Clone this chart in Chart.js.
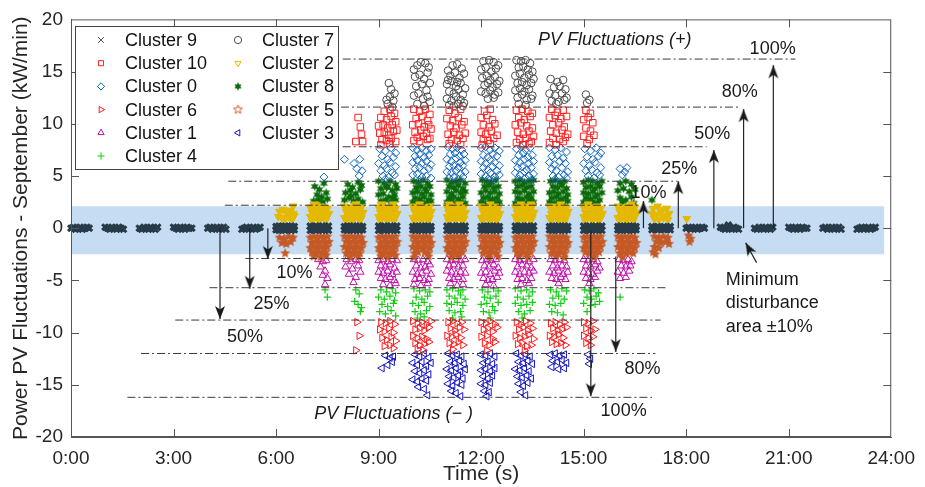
<!DOCTYPE html>
<html>
<head>
<meta charset="utf-8">
<script src="https://cdn.jsdelivr.net/npm/chart.js@4.4.0/dist/chart.umd.min.js"></script>
<style>
  body { margin: 0; background: #fff; }
  #chart { display: block; }
</style>
</head>
<body>
<canvas id="chart" width="925" height="487"></canvas>
<script>
// each row: [hour, minute, value, minute, value, ...]  (kW/min)
const c9Rows = [
  [0, 0,0, 4,0.1, 8,-0.1, 12,0, 16,0.1, 20,-0.1, 24,0, 28,0.1, 32,0],
  [1, 0,0.1, 4,0, 8,-0.1, 12,0.1, 16,0, 20,-0.1, 24,0.1, 28,0, 32,-0.1],
  [2, 0,0, 4,-0.1, 8,0.1, 12,0, 16,-0.1, 20,0.1, 24,0, 28,-0.1, 32,0.1],
  [3, 0,0.1, 4,0, 8,-0.1, 12,0.1, 16,0, 20,-0.1, 24,0.1, 28,0, 32,0],
  [4, 0,0, 4,0.1, 8,-0.1, 12,0, 16,0.1, 20,-0.1, 24,0, 28,0.1, 32,-0.1],
  [5, 0,-0.1, 4,0, 8,0.1, 12,-0.1, 16,0, 20,0.1, 24,-0.1, 28,0, 32,0.1],
  [6, 0,0.15, 5,0.2, 10,0.15, 16,0.2, 21,0.15, 27,0.2, 32,0.15, 0,-0.15, 5,-0.2, 10,-0.15, 16,-0.2, 21,-0.15, 27,-0.2, 32,-0.15],
  [7, 0,0.2, 5,0.15, 10,0.2, 16,0.15, 21,0.2, 27,0.15, 32,0.2, 0,-0.2, 5,-0.15, 10,-0.2, 16,-0.15, 21,-0.2, 27,-0.15, 32,-0.2],
  [8, 0,0.15, 5,0.2, 10,0.15, 16,0.2, 21,0.15, 27,0.2, 32,0.15, 0,-0.15, 5,-0.2, 10,-0.15, 16,-0.2, 21,-0.15, 27,-0.2, 32,-0.15],
  [9, 0,0.2, 5,0.15, 10,0.2, 16,0.15, 21,0.2, 27,0.15, 32,0.2, 0,-0.2, 5,-0.15, 10,-0.2, 16,-0.15, 21,-0.2, 27,-0.15, 32,-0.2],
  [10, 0,0.15, 5,0.2, 10,0.15, 16,0.2, 21,0.15, 27,0.2, 32,0.15, 0,-0.15, 5,-0.2, 10,-0.15, 16,-0.2, 21,-0.15, 27,-0.2, 32,-0.15],
  [11, 0,0.2, 5,0.15, 10,0.2, 16,0.15, 21,0.2, 27,0.15, 32,0.2, 0,-0.2, 5,-0.15, 10,-0.2, 16,-0.15, 21,-0.2, 27,-0.15, 32,-0.2],
  [12, 0,0.15, 5,0.2, 10,0.15, 16,0.2, 21,0.15, 27,0.2, 32,0.15, 0,-0.15, 5,-0.2, 10,-0.15, 16,-0.2, 21,-0.15, 27,-0.2, 32,-0.15],
  [13, 0,0.2, 5,0.15, 10,0.2, 16,0.15, 21,0.2, 27,0.15, 32,0.2, 0,-0.2, 5,-0.15, 10,-0.2, 16,-0.15, 21,-0.2, 27,-0.15, 32,-0.2],
  [14, 0,0.15, 5,0.2, 10,0.15, 16,0.2, 21,0.15, 27,0.2, 32,0.15, 0,-0.15, 5,-0.2, 10,-0.15, 16,-0.2, 21,-0.15, 27,-0.2, 32,-0.15],
  [15, 0,0.2, 5,0.15, 10,0.2, 16,0.15, 21,0.2, 27,0.15, 32,0.2, 0,-0.2, 5,-0.15, 10,-0.2, 16,-0.15, 21,-0.2, 27,-0.15, 32,-0.2],
  [16, 0,0.15, 5,0.2, 10,0.15, 16,0.2, 21,0.15, 27,0.2, 32,0.15, 0,-0.15, 5,-0.2, 10,-0.15, 16,-0.2, 21,-0.15, 27,-0.2, 32,-0.15],
  [17, 0,0.15, 5,0.1, 10,0.15, 16,0.1, 21,0.15, 27,0.1, 32,0.15, 0,-0.15, 5,-0.1, 10,-0.15, 16,-0.1, 21,-0.15, 27,-0.1, 32,-0.15],
  [18, 0,0, 4,0.1, 8,-0.1, 12,0, 16,0.1, 20,-0.1, 24,0, 28,0.1, 32,0],
  [19, 0,0.1, 4,0, 8,-0.1, 12,0.1, 14,0.3, 16,0, 20,-0.1, 24,0.1, 28,0, 32,-0.1],
  [20, 0,0, 4,-0.1, 8,0.1, 12,0, 16,-0.1, 20,0.1, 24,0, 28,-0.1, 32,0.1],
  [21, 0,0.1, 4,0, 8,-0.1, 12,0.1, 16,0, 20,-0.1, 24,0.1, 28,0, 32,0],
  [22, 0,0, 4,0.1, 8,-0.1, 12,0, 16,0.1, 20,-0.1, 24,0, 28,0.1, 32,-0.1],
  [23, 0,-0.1, 4,0, 8,0.1, 12,-0.1, 16,0, 20,0.1, 24,-0.1, 28,0, 32,0.1]
];
const c10Rows = [
  [8, 24,10.6, 28,9.7, 30,9.0, 20,8.3, 32,8.3],
  [9, 10,11.2, 20,11.4, 28,11.0, 4,10.6, 14,10.4, 22,10.7, 30,10.2, 0,9.8, 8,9.9, 16,9.6, 24,9.9, 32,9.4, 2,9.1, 10,9.2, 18,8.9, 26,9.3, 6,8.5, 14,8.4, 22,8.6, 30,8.3, 4,8.0, 20,8.1],
  [10, 2,11.4, 12,11.2, 22,11.4, 30,10.9, 6,10.5, 16,10.7, 26,10.3, 0,9.9, 10,10.0, 20,9.7, 28,9.9, 4,9.2, 14,9.4, 24,9.1, 32,9.5, 8,8.7, 18,8.8, 26,8.5, 2,8.4, 12,8.3, 30,8.6],
  [11, 4,11.3, 14,11.0, 24,11.4, 0,10.5, 10,10.3, 20,10.6, 30,10.2, 6,9.8, 16,9.6, 26,9.9, 2,9.0, 12,9.2, 22,8.9, 32,9.1, 8,8.5, 18,8.4, 28,8.6, 4,8.1, 24,8.0],
  [12, 6,11.2, 16,11.4, 0,10.6, 10,10.8, 20,10.4, 4,9.9, 14,9.7, 24,10.0, 0,9.2, 8,9.0, 18,9.3, 28,8.9, 4,8.5, 12,8.4, 22,8.6, 2,8.0, 16,8.1],
  [13, 2,11.3, 12,11.4, 22,11.2, 30,11.0, 6,10.6, 16,10.4, 26,10.7, 0,9.9, 10,10.1, 20,9.8, 30,9.6, 4,9.2, 14,9.0, 24,9.3, 32,8.8, 8,8.5, 18,8.6, 28,8.3, 2,8.2, 14,8.0, 24,8.1],
  [14, 4,11.4, 14,11.1, 24,11.3, 0,10.6, 10,10.8, 20,10.5, 30,10.7, 6,9.9, 16,10.1, 26,9.7, 2,9.3, 12,9.1, 22,9.4, 32,9.0, 6,8.6, 18,8.5, 28,8.7, 0,8.2, 12,8.0, 24,8.3],
  [15, 4,11.3, 12,11.0, 0,10.4, 8,10.6, 16,10.1, 4,9.6, 12,9.3, 0,8.8, 10,8.5, 18,8.9, 6,8.1]
];
const c0Rows = [
  [7, 24,4.9],
  [8, 0,6.6, 17,6.2, 27,6.6, 31,5.5, 22,5.7, 26,5.0],
  [9, 2,7.6, 12,7.4, 22,7.7, 30,7.2, 6,6.9, 16,6.6, 26,6.8, 0,6.2, 10,6.0, 20,6.3, 30,5.9, 4,5.5, 14,5.7, 24,5.3, 8,5.0, 18,4.9, 28,5.1, 12,4.7],
  [10, 0,7.7, 8,7.5, 16,7.7, 24,7.4, 32,7.6, 4,6.9, 12,7.1, 20,6.8, 28,7.0, 0,6.3, 8,6.5, 16,6.2, 24,6.4, 32,6.1, 4,5.7, 12,5.8, 20,5.5, 28,5.7, 0,5.1, 8,5.2, 16,4.9, 24,5.0, 32,4.8, 12,4.6],
  [11, 2,7.8, 10,7.6, 18,7.7, 26,7.5, 6,7.1, 14,7.2, 22,6.9, 30,7.1, 0,6.6, 8,6.4, 16,6.7, 24,6.3, 32,6.5, 4,5.9, 12,6.0, 20,5.8, 28,6.0, 0,5.4, 8,5.3, 16,5.5, 24,5.2, 32,5.4, 4,4.8, 12,4.9, 20,4.7, 28,4.9],
  [12, 0,7.7, 8,7.8, 16,7.5, 24,7.7, 32,7.4, 4,7.0, 12,6.8, 20,7.1, 28,6.9, 0,6.4, 8,6.2, 16,6.5, 24,6.3, 32,6.0, 4,5.8, 12,5.6, 20,5.9, 28,5.5, 0,5.2, 8,5.0, 16,5.3, 24,4.9, 32,5.1, 12,4.7, 22,4.6],
  [13, 2,7.6, 10,7.8, 18,7.5, 26,7.7, 6,7.0, 14,7.2, 22,6.8, 30,7.0, 0,6.5, 8,6.3, 16,6.6, 24,6.2, 32,6.4, 4,5.8, 12,5.9, 20,5.6, 28,5.8, 0,5.3, 8,5.1, 16,5.4, 24,5.0, 32,5.2, 6,4.7, 18,4.8, 28,4.6],
  [14, 0,7.7, 10,7.5, 20,7.7, 30,7.3, 4,6.9, 14,7.0, 24,6.7, 0,6.3, 8,6.1, 18,6.4, 28,6.2, 4,5.7, 12,5.5, 22,5.8, 32,5.4, 6,5.0, 16,4.9, 26,5.1, 10,4.7, 30,4.8],
  [15, 2,7.6, 12,7.4, 22,7.7, 30,7.2, 6,6.8, 16,6.6, 26,6.9, 0,6.2, 10,6.0, 20,6.3, 30,5.8, 4,5.5, 14,5.6, 24,5.3, 8,5.0, 18,4.8, 28,5.1],
  [16, 4,5.7, 12,5.4, 16,5.8, 8,5.1]
];
const c6Rows = [
  [8, 22,-9.0, 26,-10.3, 20,-11.7],
  [9, 4,-9.0, 12,-9.1, 20,-8.9, 28,-9.2, 2,-9.7, 10,-9.9, 18,-9.6, 26,-10.0, 6,-10.5, 14,-10.7, 22,-10.4, 30,-10.8, 10,-11.3, 20,-11.2, 26,-11.5],
  [10, 0,-8.9, 8,-9.1, 16,-9.0, 24,-9.2, 32,-8.9, 4,-9.7, 12,-9.6, 20,-9.8, 28,-9.5, 0,-10.3, 8,-10.5, 16,-10.4, 24,-10.6, 4,-11.0, 12,-11.2, 20,-11.1, 28,-10.9, 8,-11.6, 18,-11.7],
  [11, 2,-9.0, 10,-8.9, 18,-9.1, 26,-9.0, 6,-9.6, 14,-9.8, 22,-9.5, 30,-9.7, 0,-10.3, 8,-10.4, 16,-10.2, 24,-10.5, 4,-11.0, 12,-11.1, 20,-10.9, 28,-11.2, 10,-11.6],
  [12, 0,-9.0, 8,-9.1, 16,-8.9, 24,-9.2, 4,-9.7, 12,-9.6, 20,-9.9, 28,-9.5, 0,-10.4, 10,-10.3, 20,-10.6, 6,-11.0, 14,-11.2, 24,-10.9, 10,-11.7],
  [13, 2,-9.0, 10,-9.2, 18,-8.9, 26,-9.1, 6,-9.7, 14,-9.5, 22,-9.8, 30,-9.6, 0,-10.3, 8,-10.5, 16,-10.4, 24,-10.2, 32,-10.6, 4,-11.1, 12,-11.0, 20,-11.3, 28,-11.2, 16,-11.7],
  [14, 2,-9.1, 10,-9.0, 18,-9.2, 26,-9.0, 6,-9.6, 14,-9.8, 22,-9.7, 30,-9.5, 0,-10.3, 8,-10.4, 16,-10.2, 24,-10.5, 4,-10.9, 12,-11.1, 20,-11.0, 28,-11.2],
  [15, 0,-9.0, 8,-9.1, 16,-8.9, 4,-9.6, 12,-9.8, 20,-9.7, 0,-10.3, 8,-10.5, 16,-10.4, 4,-11.0, 12,-11.2]
];
const c1Rows = [
  [7, 14,-3.0, 22,-3.2, 28,-3.1, 18,-3.7, 26,-4.1, 22,-4.5, 30,-4.8, 26,-5.4],
  [8, 4,-3.0, 12,-3.2, 20,-3.0, 26,-3.1, 2,-3.7, 14,-3.9, 24,-3.6, 8,-4.4, 20,-4.7, 28,-4.2, 16,-5.2],
  [9, 0,-3.1, 8,-3.0, 16,-3.2, 24,-3.0, 32,-3.1, 4,-3.6, 12,-3.7, 20,-3.5, 28,-3.8, 0,-4.2, 8,-4.3, 16,-4.1, 24,-4.4, 32,-4.2, 4,-4.8, 12,-4.9, 20,-4.7, 28,-5.0, 8,-5.4, 20,-5.5, 30,-5.3],
  [10, 2,-3.0, 10,-3.1, 18,-3.0, 26,-3.2, 6,-3.6, 14,-3.8, 22,-3.7, 30,-3.5, 0,-4.2, 8,-4.4, 16,-4.3, 24,-4.1, 32,-4.4, 4,-4.9, 12,-4.8, 20,-5.0, 28,-4.9, 2,-5.4, 14,-5.5, 26,-5.3],
  [11, 0,-3.0, 8,-3.1, 16,-3.0, 24,-3.1, 32,-3.0, 4,-3.6, 12,-3.5, 20,-3.7, 28,-3.6, 0,-4.1, 8,-4.2, 16,-4.4, 24,-4.2, 32,-4.3, 4,-4.8, 12,-4.9, 20,-4.7, 28,-4.9, 6,-5.3, 18,-5.5, 28,-5.4],
  [12, 2,-3.1, 10,-3.0, 18,-3.1, 26,-3.0, 6,-3.6, 14,-3.7, 22,-3.5, 30,-3.8, 0,-4.3, 8,-4.2, 16,-4.4, 24,-4.1, 32,-4.3, 4,-4.8, 12,-5.0, 20,-4.9, 28,-4.7, 8,-5.4, 22,-5.5],
  [13, 0,-3.0, 8,-3.1, 16,-3.0, 24,-3.2, 32,-3.0, 4,-3.7, 12,-3.5, 20,-3.6, 28,-3.8, 0,-4.2, 8,-4.4, 16,-4.2, 24,-4.3, 32,-4.1, 4,-4.9, 12,-4.8, 20,-5.0, 28,-4.8, 10,-5.4, 24,-5.3],
  [14, 2,-3.0, 10,-3.1, 18,-3.0, 26,-3.1, 6,-3.6, 14,-3.8, 22,-3.6, 30,-3.7, 0,-4.2, 8,-4.3, 16,-4.1, 24,-4.4, 32,-4.2, 4,-4.8, 12,-4.9, 20,-4.7, 28,-4.9, 16,-5.3],
  [15, 0,-3.0, 8,-3.1, 16,-3.0, 24,-3.2, 4,-3.6, 12,-3.7, 20,-3.5, 28,-3.8, 0,-4.2, 8,-4.3, 16,-4.4, 24,-4.1, 4,-4.8, 12,-4.9, 20,-4.7, 10,-5.3],
  [16, 2,-3.0, 10,-3.1, 18,-3.0, 24,-3.2, 6,-3.6, 14,-3.7, 22,-3.6, 0,-4.2, 10,-4.3, 20,-4.1, 4,-4.8, 14,-4.7]
];
const c4Rows = [
  [7, 26,-5.9, 30,-6.6],
  [8, 20,-5.9, 26,-6.3, 18,-7.0, 24,-7.3, 30,-7.6, 28,-8.0],
  [9, 4,-5.9, 14,-6.1, 24,-5.8, 30,-6.2, 0,-6.6, 10,-6.8, 20,-6.5, 28,-6.9, 6,-7.3, 16,-7.5, 26,-7.2, 2,-8.0, 12,-8.2, 22,-7.9, 30,-8.4],
  [10, 2,-5.8, 12,-6.0, 22,-5.9, 30,-6.1, 6,-6.6, 16,-6.8, 26,-6.5, 0,-7.2, 10,-7.4, 20,-7.1, 30,-7.5, 4,-8.0, 14,-8.2, 24,-7.9, 8,-8.6, 20,-8.5],
  [11, 0,-5.9, 10,-5.8, 20,-6.0, 28,-5.9, 4,-6.5, 14,-6.7, 24,-6.4, 32,-6.8, 0,-7.2, 8,-7.3, 18,-7.1, 28,-7.4, 4,-7.9, 14,-8.1, 24,-8.0, 10,-8.6, 26,-8.5],
  [12, 2,-5.9, 12,-6.1, 22,-5.8, 30,-6.0, 6,-6.6, 16,-6.7, 26,-6.5, 0,-7.3, 10,-7.2, 20,-7.5, 30,-7.1, 4,-8.0, 14,-8.1, 24,-7.9, 16,-8.6],
  [13, 0,-5.8, 10,-6.0, 20,-5.9, 30,-6.1, 4,-6.6, 14,-6.8, 24,-6.5, 0,-7.2, 10,-7.4, 20,-7.3, 30,-7.1, 6,-8.0, 16,-8.2, 26,-7.9, 12,-8.6],
  [14, 2,-5.9, 12,-6.1, 22,-5.8, 30,-6.0, 6,-6.7, 16,-6.5, 26,-6.8, 0,-7.3, 10,-7.4, 20,-7.2, 4,-8.0, 14,-8.1, 24,-8.3],
  [15, 2,-5.9, 10,-6.0, 18,-5.8, 26,-6.2, 6,-6.6, 14,-6.8, 22,-6.5, 0,-7.2, 12,-7.4, 20,-7.3, 28,-7.0, 6,-8.0],
  [16, 4,-6.6]
];
const c7Rows = [
  [9, 18,13.9, 22,13.3, 20,12.6, 26,12.2, 16,11.9, 24,11.6, 28,12.9, 14,12.3],
  [10, 2,15.2, 8,15.6, 14,15.9, 22,15.8, 28,15.4, 4,14.5, 12,14.7, 20,14.3, 26,14.9, 6,13.6, 16,13.8, 24,13.2, 30,13.9, 2,12.7, 10,12.9, 18,12.4, 26,12.6, 8,11.9, 20,11.7, 30,12.1],
  [11, 2,15.1, 10,15.6, 18,15.7, 26,15.3, 6,14.6, 14,14.9, 22,14.4, 30,14.8, 0,13.8, 8,14.1, 16,13.6, 24,13.9, 32,13.4, 4,13.1, 12,12.9, 20,13.3, 28,12.8, 0,12.4, 8,12.2, 16,12.6, 24,12.3, 30,12.0, 4,11.8, 12,11.7, 20,11.9, 28,11.7, 2,14.2, 18,14.0],
  [12, 4,16.0, 14,16.1, 22,15.9, 30,15.6, 0,15.2, 8,15.4, 18,15.0, 26,15.3, 2,14.4, 10,14.6, 16,14.2, 24,14.5, 32,14.1, 6,13.7, 12,13.9, 20,13.5, 28,13.8, 0,13.1, 8,12.9, 16,13.2, 24,12.8, 30,13.0, 12,12.4, 22,12.5],
  [13, 2,16.1, 10,16.0, 18,16.1, 26,15.8, 6,15.4, 14,15.5, 22,15.2, 30,15.0, 0,14.6, 8,14.8, 16,14.4, 24,14.7, 32,14.3, 4,13.9, 12,14.0, 20,13.7, 28,13.9, 0,13.2, 8,13.4, 16,13.1, 24,13.3, 30,12.7, 4,12.5, 12,12.8, 20,12.3, 28,12.4, 6,11.9, 18,11.8],
  [14, 2,14.3, 14,14.0, 24,14.2, 8,13.5, 18,13.6, 28,13.3, 0,12.9, 10,12.7, 22,12.9, 30,12.5, 4,12.2, 16,12.1, 26,12.3, 12,11.9],
  [15, 4,12.8, 10,12.3, 6,12.0]
];
const c2Rows = [
  [6, 6,1.6, 12,1.8, 18,1.5, 24,1.7, 30,1.4, 4,1.1, 10,1.0, 16,0.9, 22,1.1, 28,0.8, 32,1.2, 30,2.1],
  [7, 0,2.0, 6,2.1, 12,1.9, 18,2.1, 24,2.0, 30,1.9, 3,1.5, 9,1.6, 15,1.4, 21,1.5, 27,1.6, 33,1.4, 0,1.1, 6,1.0, 12,1.1, 18,0.9, 24,1.0, 30,1.1, 3,0.7, 15,0.7, 27,0.7, 8,2.3],
  [8, 0,2.1, 6,1.9, 12,2.0, 18,2.1, 24,1.9, 30,2.0, 3,1.6, 9,1.4, 15,1.5, 21,1.6, 27,1.4, 33,1.5, 0,1.0, 6,1.1, 12,0.9, 18,1.0, 24,1.1, 30,1.0, 3,0.7, 15,0.7, 27,0.7, 20,2.3],
  [9, 0,2.0, 6,2.1, 12,1.9, 18,2.0, 24,2.1, 30,1.9, 3,1.5, 9,1.6, 15,1.4, 21,1.5, 27,1.6, 33,1.4, 0,1.1, 6,1.0, 12,1.1, 18,0.9, 24,1.0, 30,1.1, 3,0.7, 15,0.7, 27,0.7, 6,2.3, 26,2.3],
  [10, 0,2.1, 6,2.0, 12,2.1, 18,1.9, 24,2.0, 30,2.1, 3,1.6, 9,1.5, 15,1.6, 21,1.4, 27,1.5, 33,1.6, 0,1.0, 6,1.1, 12,1.0, 18,1.1, 24,0.9, 30,1.0, 3,0.7, 15,0.7, 27,0.7, 12,2.3],
  [11, 0,2.0, 6,2.1, 12,2.0, 18,2.1, 24,1.9, 30,2.0, 3,1.5, 9,1.4, 15,1.6, 21,1.5, 27,1.4, 33,1.5, 0,1.1, 6,0.9, 12,1.0, 18,1.1, 24,1.0, 30,0.9, 3,0.7, 15,0.7, 27,0.7, 4,2.3, 22,2.3],
  [12, 0,2.1, 6,1.9, 12,2.0, 18,2.0, 24,2.1, 30,1.9, 3,1.6, 9,1.5, 15,1.4, 21,1.6, 27,1.5, 33,1.4, 0,1.0, 6,1.1, 12,1.0, 18,0.9, 24,1.1, 30,1.0, 3,0.7, 15,0.7, 27,0.7, 16,2.3],
  [13, 0,2.0, 6,2.1, 12,1.9, 18,2.1, 24,2.0, 30,2.1, 3,1.5, 9,1.6, 15,1.5, 21,1.4, 27,1.6, 33,1.5, 0,1.1, 6,1.0, 12,0.9, 18,1.0, 24,1.1, 30,1.0, 3,0.7, 15,0.7, 27,0.7, 10,2.3, 28,2.3],
  [14, 0,2.1, 6,2.0, 12,2.1, 18,1.9, 24,2.0, 30,2.0, 3,1.4, 9,1.5, 15,1.6, 21,1.5, 27,1.4, 33,1.6, 0,1.0, 6,1.1, 12,1.0, 18,1.1, 24,0.9, 30,1.1, 3,0.7, 15,0.7, 27,0.7, 20,2.3],
  [15, 0,2.0, 6,2.1, 12,2.0, 18,2.0, 24,2.1, 30,1.9, 3,1.5, 9,1.4, 15,1.5, 21,1.6, 27,1.5, 33,1.4, 0,1.1, 6,1.0, 12,1.1, 18,1.0, 24,0.9, 30,1.0, 3,0.7, 15,0.7, 27,0.7, 8,2.3],
  [16, 0,2.1, 6,1.9, 12,2.0, 18,2.1, 24,2.0, 30,2.0, 3,1.6, 9,1.5, 15,1.4, 21,1.5, 27,1.6, 33,1.5, 0,1.0, 6,1.1, 12,1.0, 18,0.9, 24,1.0, 30,1.1, 3,0.7, 15,0.7, 27,0.7, 24,2.3],
  [17, 2,1.9, 10,2.1, 18,1.8, 26,1.9, 0,1.4, 8,1.3, 16,1.5, 24,1.2, 30,1.4, 4,0.9, 12,0.8, 20,1.0, 28,0.8],
  [18, 1,0.9]
];
const c8Rows = [
  [7, 8,4.0, 16,3.7, 24,4.3, 12,3.2, 20,3.0, 28,3.4, 6,2.6, 14,2.7, 22,2.5, 30,2.8],
  [8, 6,4.2, 14,3.9, 24,4.4, 30,4.1, 2,3.4, 10,3.6, 20,3.3, 28,3.7, 0,2.7, 8,2.9, 16,2.6, 24,2.8, 32,2.5, 12,3.1],
  [9, 0,4.5, 10,4.3, 20,4.5, 30,4.2, 4,3.8, 14,3.9, 24,3.6, 32,3.8, 0,3.2, 8,3.3, 18,3.0, 28,3.2, 4,2.6, 12,2.7, 22,2.5, 30,2.7, 16,4.0, 26,2.9],
  [10, 2,4.5, 10,4.4, 18,4.6, 26,4.3, 6,3.9, 14,4.0, 22,3.8, 30,4.0, 0,3.4, 8,3.5, 16,3.3, 24,3.5, 32,3.2, 4,2.9, 12,2.8, 20,3.0, 28,2.7, 0,2.5, 8,2.4, 16,2.5, 24,2.4, 32,2.6],
  [11, 0,4.6, 8,4.4, 16,4.5, 24,4.6, 32,4.3, 4,4.0, 12,3.9, 20,4.1, 28,3.8, 0,3.5, 8,3.3, 16,3.6, 24,3.4, 32,3.5, 4,2.9, 12,3.0, 20,2.8, 28,3.0, 0,2.5, 8,2.6, 16,2.4, 24,2.5, 32,2.4],
  [12, 2,4.6, 10,4.5, 18,4.4, 26,4.6, 6,4.0, 14,4.1, 22,3.9, 30,4.0, 0,3.4, 8,3.6, 16,3.4, 24,3.5, 32,3.3, 4,2.9, 12,3.0, 20,2.8, 28,2.9, 0,2.5, 8,2.4, 16,2.6, 24,2.4, 32,2.5],
  [13, 0,4.5, 8,4.6, 16,4.4, 24,4.5, 32,4.6, 4,4.0, 12,4.1, 20,3.9, 28,4.0, 0,3.5, 8,3.4, 16,3.6, 24,3.3, 32,3.5, 4,2.9, 12,2.8, 20,3.0, 28,2.9, 0,2.4, 8,2.5, 16,2.4, 24,2.6, 32,2.5],
  [14, 2,4.5, 10,4.6, 18,4.4, 26,4.5, 6,4.0, 14,3.9, 22,4.1, 30,3.8, 0,3.4, 8,3.5, 16,3.3, 24,3.5, 32,3.2, 4,2.9, 12,3.0, 20,2.8, 28,2.9, 0,2.5, 8,2.4, 16,2.5, 24,2.4, 32,2.6],
  [15, 0,4.4, 8,4.6, 16,4.5, 24,4.3, 32,4.5, 4,3.9, 12,4.0, 20,3.8, 28,4.0, 0,3.4, 8,3.3, 16,3.5, 24,3.2, 32,3.4, 4,2.9, 12,2.8, 20,3.0, 28,2.7, 0,2.5, 8,2.4, 16,2.5, 24,2.4],
  [16, 4,4.3, 14,4.5, 24,4.2, 0,3.6, 10,3.8, 20,3.5, 30,3.7, 4,2.9, 14,2.7, 24,3.0, 8,2.5, 28,2.4],
  [17, 0,2.7]
];
const c5Rows = [
  [6, 6,-0.9, 14,-1.0, 22,-0.8, 30,-0.9, 10,-1.4, 18,-1.5, 26,-1.3, 16,-2.4],
  [7, 0,-0.9, 6,-0.8, 12,-0.9, 18,-0.8, 24,-0.9, 30,-0.8, 3,-1.4, 9,-1.3, 15,-1.4, 21,-1.3, 27,-1.4, 33,-1.3, 0,-1.9, 6,-1.8, 12,-1.9, 18,-1.8, 24,-1.9, 30,-1.8, 3,-2.3, 9,-2.4, 15,-2.3, 21,-2.4, 27,-2.3, 6,-2.7, 18,-2.8, 28,-2.6],
  [8, 0,-0.8, 6,-0.9, 12,-0.8, 18,-0.9, 24,-0.8, 30,-0.9, 3,-1.3, 9,-1.4, 15,-1.3, 21,-1.4, 27,-1.3, 33,-1.4, 0,-1.8, 6,-1.9, 12,-1.8, 18,-1.9, 24,-1.8, 30,-1.9, 3,-2.4, 9,-2.3, 15,-2.4, 21,-2.3, 27,-2.4, 10,-2.8, 24,-2.7],
  [9, 0,-0.9, 6,-0.8, 12,-0.9, 18,-0.8, 24,-0.9, 30,-0.8, 3,-1.4, 9,-1.3, 15,-1.4, 21,-1.3, 27,-1.4, 33,-1.3, 0,-1.9, 6,-1.8, 12,-1.9, 18,-1.8, 24,-1.9, 30,-1.8, 3,-2.3, 9,-2.4, 15,-2.3, 21,-2.4, 27,-2.3, 4,-2.7, 16,-2.8, 30,-2.6],
  [10, 0,-0.8, 6,-0.9, 12,-0.8, 18,-0.9, 24,-0.8, 30,-0.9, 3,-1.3, 9,-1.4, 15,-1.3, 21,-1.4, 27,-1.3, 33,-1.4, 0,-1.8, 6,-1.9, 12,-1.8, 18,-1.9, 24,-1.8, 30,-1.9, 3,-2.4, 9,-2.3, 21,-2.3, 27,-2.4, 2,-2.8, 28,-2.7],
  [11, 0,-0.9, 6,-0.8, 12,-0.9, 18,-0.8, 24,-0.9, 30,-0.8, 3,-1.4, 9,-1.3, 15,-1.4, 21,-1.3, 27,-1.4, 33,-1.3, 0,-1.9, 6,-1.8, 12,-1.9, 18,-1.8, 24,-1.9, 30,-1.8, 3,-2.3, 9,-2.4, 15,-2.3, 21,-2.4, 27,-2.3, 8,-2.8, 20,-2.7],
  [12, 0,-0.8, 6,-0.9, 12,-0.8, 18,-0.9, 24,-0.8, 30,-0.9, 3,-1.3, 9,-1.4, 15,-1.3, 21,-1.4, 27,-1.3, 33,-1.4, 0,-1.8, 6,-1.9, 12,-1.8, 18,-1.9, 24,-1.8, 30,-1.9, 3,-2.4, 9,-2.3, 15,-2.4, 21,-2.3, 27,-2.4, 14,-2.8, 30,-2.7],
  [13, 0,-0.9, 6,-0.8, 12,-0.9, 18,-0.8, 24,-0.9, 30,-0.8, 3,-1.4, 9,-1.3, 15,-1.4, 21,-1.3, 27,-1.4, 33,-1.3, 0,-1.9, 6,-1.8, 12,-1.9, 18,-1.8, 24,-1.9, 30,-1.8, 3,-2.3, 9,-2.4, 15,-2.3, 21,-2.4, 27,-2.3, 6,-2.7, 22,-2.8],
  [14, 0,-0.8, 6,-0.9, 12,-0.8, 18,-0.9, 24,-0.8, 30,-0.9, 3,-1.3, 9,-1.4, 15,-1.3, 21,-1.4, 27,-1.3, 33,-1.4, 0,-1.8, 6,-1.9, 12,-1.8, 18,-1.9, 24,-1.8, 30,-1.9, 3,-2.4, 9,-2.3, 15,-2.4, 21,-2.3, 27,-2.4, 12,-2.7, 26,-2.8],
  [15, 0,-0.9, 6,-0.8, 12,-0.9, 18,-0.8, 24,-0.9, 30,-0.8, 3,-1.4, 9,-1.3, 15,-1.4, 21,-1.3, 27,-1.4, 33,-1.3, 0,-1.9, 6,-1.8, 12,-1.9, 18,-1.8, 24,-1.9, 30,-1.8, 3,-2.3, 9,-2.4, 15,-2.3, 21,-2.4, 27,-2.3, 18,-2.8],
  [16, 0,-0.8, 6,-0.9, 12,-0.8, 18,-0.9, 24,-0.8, 30,-0.9, 3,-1.3, 9,-1.4, 15,-1.3, 21,-1.4, 27,-1.3, 33,-1.4, 0,-1.8, 6,-1.9, 12,-1.8, 18,-1.9, 24,-1.8, 30,-1.9, 3,-2.4, 9,-2.3, 15,-2.4, 21,-2.3, 27,-2.4, 8,-2.8],
  [17, 4,-0.8, 12,-0.9, 20,-0.8, 28,-0.9, 8,-1.3, 16,-1.4, 24,-1.3, 30,-1.5, 4,-1.8, 12,-1.9, 2,-2.3, 6,-2.5],
  [18, 4,-0.7, 8,-1.0, 6,-1.3]
];
const c3Rows = [
  [9, 12,-12.2, 20,-12.4, 26,-12.3, 24,-12.8, 16,-13.1, 6,-13.4],
  [10, 4,-12.1, 12,-12.3, 20,-12.0, 28,-12.4, 0,-12.9, 8,-13.1, 16,-12.8, 24,-13.2, 32,-12.9, 4,-13.7, 12,-13.9, 20,-13.6, 28,-14.0, 0,-14.5, 8,-14.7, 16,-14.4, 24,-14.6, 10,-15.2, 20,-15.4, 26,-16.0],
  [11, 2,-12.0, 10,-12.2, 18,-12.1, 26,-12.3, 6,-12.8, 14,-12.9, 22,-12.7, 30,-13.0, 0,-13.5, 8,-13.6, 16,-13.4, 24,-13.7, 32,-13.5, 4,-14.2, 12,-14.3, 20,-14.1, 28,-14.4, 2,-14.9, 10,-15.1, 18,-14.8, 26,-15.0, 8,-15.6, 16,-15.8, 24,-16.1],
  [12, 0,-12.1, 8,-12.2, 16,-12.0, 24,-12.3, 4,-12.9, 12,-12.8, 20,-13.0, 0,-13.6, 8,-13.5, 16,-13.7, 24,-13.4, 4,-14.2, 12,-14.4, 20,-14.1, 0,-14.9, 8,-15.0, 16,-14.8, 6,-15.6, 14,-15.7, 10,-16.1],
  [13, 2,-12.0, 10,-12.2, 18,-12.1, 26,-12.3, 6,-12.8, 14,-12.9, 22,-12.7, 30,-13.0, 0,-13.5, 8,-13.6, 16,-13.4, 24,-13.7, 4,-14.2, 12,-14.3, 20,-14.1, 28,-14.4, 6,-14.9, 14,-15.1, 22,-14.8, 10,-15.7, 18,-16.0],
  [14, 2,-12.1, 10,-12.0, 18,-12.2, 26,-12.1, 6,-12.7, 14,-12.8, 22,-12.6, 30,-12.9, 4,-13.3, 16,-13.5, 26,-13.4],
  [15, 8,-12.1, 12,-12.5, 10,-13.0]
];

// disturbance levels (kW/min) and the hours they span
const pctLabels = ['10%', '25%', '50%', '80%', '100%'];
const posLevels = [2.2, 4.5, 7.8, 11.6, 16.2];
const posStart = [4.5, 4.6, 7.95, 7.9, 7.95];
const posEnd = [16.6, 17.75, 18.6, 19.6, 21.2];
const negLevels = [-2.9, -5.7, -8.8, -12.0, -16.2];
const negStart = [5.1, 4.05, 3.05, 2.05, 1.65];
const negEnd = [15.95, 17.45, 17.25, 17.1, 17.0];
const posArrowX = [16.75, 17.77, 18.81, 19.68, 20.55];
const posArrowTip = [2.6, 4.5, 7.5, 11.4, 15.6];
const negArrowX = [5.76, 5.23, 4.36, 15.94, 15.21];
const negArrowFrom = [0, 0, 0, -2.7, -0.3];
const negArrowTip = [-2.95, -5.8, -8.7, -11.85, -16.1];
const bandTop = 2.1;
const bandBottom = -2.5;
const bandEnd = 23.8;

const FONT = '"Liberation Sans", Arial, sans-serif';

const toPoints = (rows) => {
  const pts = [];
  rows.forEach((r) => {
    for (let i = 1; i < r.length; i += 2) pts.push({ x: r[0] + r[i] / 60, y: r[i + 1] });
  });
  return pts;
};

// marker images
const starImg = (n, outer, inner, fill, stroke) => {
  const size = Math.ceil(outer * 2 + 3);
  const c = document.createElement('canvas');
  c.width = size; c.height = size;
  const g = c.getContext('2d');
  g.translate(size / 2, size / 2);
  g.beginPath();
  for (let i = 0; i < n * 2; i++) {
    const r = i % 2 ? inner : outer;
    const a = -Math.PI / 2 + (i * Math.PI) / n;
    g.lineTo(r * Math.cos(a), r * Math.sin(a));
  }
  g.closePath();
  if (fill) { g.fillStyle = fill; g.fill(); }
  if (stroke) { g.strokeStyle = stroke; g.lineWidth = 1; g.stroke(); }
  return c;
};
const arrowImg = (color) => {
  const c = document.createElement('canvas');
  c.width = 12; c.height = 30;
  const g = c.getContext('2d');
  g.fillStyle = color;
  g.beginPath();
  g.moveTo(6, 15); g.lineTo(11, 28); g.lineTo(6, 24.5); g.lineTo(1, 28);
  g.closePath(); g.fill();
  return c;
};
const arrowHead = arrowImg('#1a1a1a');

const clusters = [
  { name: 'Cluster 9', rows: c9Rows, color: '#273b49', legendColor: '#555', style: 'crossRot', r: 4.2, bw: 3, fill: false, z: 2 },
  { name: 'Cluster 10', rows: c10Rows, color: '#ff2020', style: 'rect', r: 4.6, bw: 1, fill: false, z: 5 },
  { name: 'Cluster 0', rows: c0Rows, color: '#0d62c4', style: 'rectRot', r: 4, bw: 1, fill: false, z: 5 },
  { name: 'Cluster 6', rows: c6Rows, color: '#ff1a1a', style: 'triangle', rot: 90, r: 4.3, bw: 1, fill: false, z: 5 },
  { name: 'Cluster 1', rows: c1Rows, color: '#bf10a8', style: 'triangle', r: 4.3, bw: 1, fill: false, z: 5 },
  { name: 'Cluster 4', rows: c4Rows, color: '#14cc14', style: 'cross', r: 3.6, bw: 1.2, fill: false, z: 5 },
  { name: 'Cluster 7', rows: c7Rows, color: '#4d4d4d', style: 'circle', r: 3.8, bw: 1, fill: false, z: 5 },
  { name: 'Cluster 2', rows: c2Rows, color: '#e4b900', style: 'triangle', rot: 180, r: 4.5, bw: 1, fill: true, z: 4 },
  { name: 'Cluster 8', rows: c8Rows, color: '#0b6b0b', style: starImg(6, 4.6, 2.4, '#0b6b0b'), legendStyle: starImg(6, 4.2, 2.2, '#0b6b0b'), r: 4, bw: 1, fill: true, z: 5 },
  { name: 'Cluster 5', rows: c5Rows, color: '#c55a26', style: starImg(5, 5.2, 2.4, '#c55a26'), legendStyle: starImg(5, 4.6, 2, null, '#d95319'), r: 4, bw: 1, fill: true, z: 4 },
  { name: 'Cluster 3', rows: c3Rows, color: '#1414c4', style: 'triangle', rot: 270, r: 4.3, bw: 1, fill: false, z: 5 }
];

const datasets = [];
datasets.push({
  type: 'line', label: 'band', order: 100,
  data: [{ x: 0, y: bandTop }, { x: bandEnd, y: bandTop }],
  fill: { value: bandBottom }, backgroundColor: 'rgba(150,192,232,0.55)',
  borderWidth: 0, pointRadius: 0
});
clusters.forEach((c) => {
  datasets.push({
    label: c.name, data: toPoints(c.rows), order: c.z, clip: false,
    pointStyle: c.style, rotation: c.rot || 0, pointRadius: c.r, borderWidth: c.bw,
    borderColor: c.color, backgroundColor: c.fill ? c.color : 'rgba(0,0,0,0)'
  });
});
const refLine = (x0, x1, v) => ({
  type: 'line', label: 'ref', order: 1,
  data: [{ x: x0, y: v }, { x: x1, y: v }],
  borderColor: '#3a3a3a', borderWidth: 1, borderDash: [8, 3, 2, 3], pointRadius: 0, fill: false
});
const arrow = (x0, y0, x1, y1, rot) => ({
  type: 'line', label: 'arrow', order: 0, clip: false,
  data: [{ x: x0, y: y0 }, { x: x1, y: y1 }],
  borderColor: '#222', borderWidth: 1.2, fill: false,
  pointRadius: [0, 5], pointStyle: arrowHead, rotation: rot
});
posLevels.forEach((v, i) => datasets.push(refLine(posStart[i], posEnd[i], v)));
negLevels.forEach((v, i) => datasets.push(refLine(negStart[i], negEnd[i], v)));
posArrowX.forEach((x, i) => datasets.push(arrow(x, 0, x, posArrowTip[i], 0)));
negArrowX.forEach((x, i) => datasets.push(arrow(x, negArrowFrom[i], x, negArrowTip[i], 180)));
datasets.push(arrow(20.06, -3.3, 19.74, -1.4, -29));

const legendOrder = [
  ['Cluster 9', 'Cluster 10', 'Cluster 0', 'Cluster 6', 'Cluster 1', 'Cluster 4'],
  ['Cluster 7', 'Cluster 2', 'Cluster 8', 'Cluster 5', 'Cluster 3']
];

const decorations = {
  id: 'decorations',
  afterDatasetsDraw(chart) {
    const { ctx, chartArea: a, scales: { x, y } } = chart;
    ctx.save();
    // box and inward ticks
    ctx.strokeStyle = '#555';
    ctx.lineWidth = 1;
    ctx.strokeRect(a.left + 0.5, a.top + 0.5, a.right - a.left - 1, a.bottom - a.top - 1);
    ctx.beginPath();
    for (let h = 3; h < 24; h += 3) {
      const px = Math.round(x.getPixelForValue(h)) + 0.5;
      ctx.moveTo(px, a.bottom); ctx.lineTo(px, a.bottom - 8);
      ctx.moveTo(px, a.top); ctx.lineTo(px, a.top + 8);
    }
    for (let v = -15; v < 20; v += 5) {
      const py = Math.round(y.getPixelForValue(v)) + 0.5;
      ctx.moveTo(a.left, py); ctx.lineTo(a.left + 8, py);
      ctx.moveTo(a.right, py); ctx.lineTo(a.right - 8, py);
    }
    ctx.stroke();

    // annotation text
    const put = (t, hx, vy, font, align) => {
      ctx.font = font;
      ctx.textAlign = align || 'center';
      ctx.textBaseline = 'middle';
      ctx.fillText(t, x.getPixelForValue(hx), y.getPixelForValue(vy));
    };
    ctx.fillStyle = '#1a1a1a';
    const f = '18px ' + FONT;
    const posLabelAt = [[16.9, 3.4], [17.8, 5.7], [18.76, 9.0], [19.57, 13.0], [20.53, 17.2]];
    const negLabelAt = [[6.54, -4.25], [5.87, -7.3], [5.09, -10.45], [16.72, -13.5], [16.17, -17.5]];
    pctLabels.forEach((t, i) => {
      put(t, posLabelAt[i][0], posLabelAt[i][1], f);
      put(t, negLabelAt[i][0], negLabelAt[i][1], f);
    });
    put('PV Fluctuations (+)', 15.91, 18.0, 'italic 18px ' + FONT);
    put('PV Fluctuations (\u2212 )', 9.44, -17.8, 'italic 18px ' + FONT);
    put('Minimum', 19.16, -5.0, f, 'left');
    put('disturbance', 19.16, -7.2, f, 'left');
    put('area \u00b110%', 19.16, -9.5, f, 'left');

    // legend
    ctx.fillStyle = '#fff';
    ctx.fillRect(75.5, 26.5, 263, 143);
    ctx.strokeStyle = '#444';
    ctx.strokeRect(75.5, 26.5, 263, 143);
    const colX = [101, 238];
    legendOrder.forEach((col, ci) => {
      col.forEach((name, ri) => {
        const c = clusters.find((k) => k.name === name);
        const my = 40 + ri * 23.2;
        ctx.strokeStyle = c.legendColor || c.color;
        ctx.fillStyle = name === 'Cluster 8' ? c.color : 'rgba(0,0,0,0)';
        ctx.lineWidth = 1;
        Chart.helpers.drawPoint(ctx, {
          pointStyle: c.legendStyle || c.style, rotation: c.rot || 0,
          radius: c.style === 'crossRot' ? 4 : 3.6, borderWidth: 1
        }, colX[ci], my);
        ctx.fillStyle = '#111';
        ctx.font = '18px ' + FONT;
        ctx.textAlign = 'left';
        ctx.textBaseline = 'middle';
        ctx.fillText(name, colX[ci] + 24, my + 1);
      });
    });
    ctx.restore();
  }
};

new Chart(document.getElementById('chart'), {
  type: 'scatter',
  data: { datasets },
  options: {
    responsive: false,
    animation: false,
    events: [],
    layout: { padding: { left: 0, top: 17, right: 27, bottom: 0 } },
    plugins: { legend: { display: false }, tooltip: { enabled: false } },
    scales: {
      x: {
        type: 'linear', min: 0, max: 24,
        ticks: { stepSize: 3, autoSkip: false, maxRotation: 0, padding: 10, color: '#262626', font: { size: 19, family: FONT }, callback: (v) => v + ':00' },
        grid: { display: false, drawTicks: false },
        border: { display: true, color: '#555' },
        title: { display: true, text: 'Time (s)', color: '#262626', font: { size: 21, family: FONT }, padding: { top: 0, bottom: 0 } },
        afterFit: (s) => { s.height = 50; }
      },
      y: {
        type: 'linear', min: -20, max: 20,
        ticks: { stepSize: 5, padding: 8, color: '#262626', font: { size: 19, family: FONT } },
        grid: { display: false, drawTicks: false },
        border: { display: true, color: '#555' },
        title: { display: true, text: 'Power PV Fluctuations - September (kW/min)', color: '#262626', font: { size: 21, family: FONT }, padding: { top: 9, bottom: 0 } },
        afterFit: (s) => { s.width = 71; }
      }
    }
  },
  plugins: [decorations]
});
</script>
</body>
</html>
